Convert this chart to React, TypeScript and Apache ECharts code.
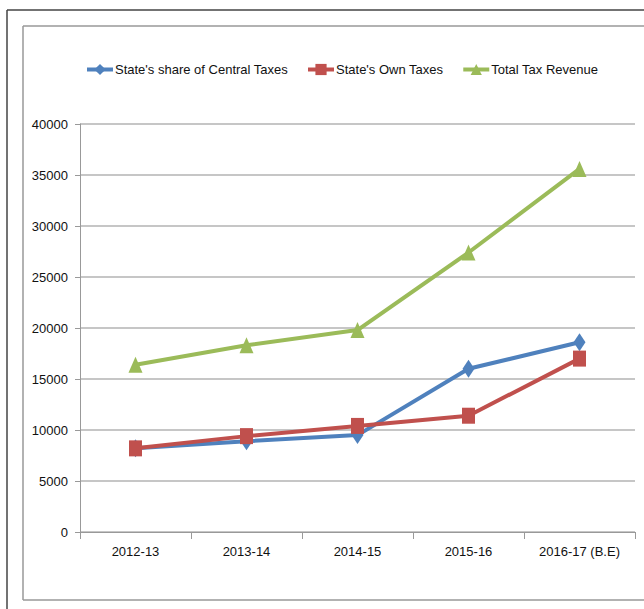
import React, { useEffect, useRef } from "react";
import * as echarts from "echarts";

const categories = ["2012-13", "2013-14", "2014-15", "2015-16", "2016-17 (B.E)"];
const centralShare = [8200, 8900, 9500, 16000, 18600];
const ownTaxes = [8200, 9400, 10400, 11400, 17000];
const totalRevenue = [16400, 18300, 19800, 27400, 35600];
const yTicks = [0, 5000, 10000, 15000, 20000, 25000, 30000, 35000, 40000];

const FONT = "'Liberation Sans', Arial, sans-serif";

export default function App() {
  const ref = useRef<HTMLDivElement>(null);
  useEffect(() => {
    if (!ref.current) return;
    const chart = echarts.init(ref.current, undefined, { renderer: "svg" });
    const mk = (name: string, data: number[], color: string, symbol: string, size: number | number[]) => ({
      name,
      type: "line",
      data,
      symbol,
      symbolSize: size,
      showSymbol: true,
      lineStyle: { color, width: 4 },
      itemStyle: { color },
      emphasis: { disabled: true },
    });
    chart.setOption({
      animation: false,
      backgroundColor: "#ffffff",
      textStyle: { fontFamily: FONT },
      graphic: [
        { type: "line", shape: { x1: 7, y1: 10, x2: 644, y2: 10 }, style: { stroke: "#444", lineWidth: 1.5 } },
        { type: "line", shape: { x1: 7, y1: 10, x2: 7, y2: 609 }, style: { stroke: "#444", lineWidth: 1.5 } },
        { type: "line", shape: { x1: 23, y1: 26, x2: 644, y2: 26 }, style: { stroke: "#999", lineWidth: 1.5 } },
        { type: "line", shape: { x1: 23, y1: 26, x2: 23, y2: 600 }, style: { stroke: "#999", lineWidth: 1.5 } },
        { type: "line", shape: { x1: 23, y1: 600, x2: 644, y2: 600 }, style: { stroke: "#999", lineWidth: 1.5 } },
      ],
      legend: {
        top: 58,
        left: 80,
        width: 560,
        itemWidth: 26,
        itemHeight: 14,
        itemGap: 18,
        lineStyle: { width: 4 },
        textStyle: { fontFamily: FONT, fontSize: 13, color: "#111", padding: [0, 0, 0, -3] },
        data: ["State's share of Central Taxes", "State's Own Taxes", "Total Tax Revenue"],
      },
      grid: { left: 80, right: 9, top: 124, bottom: 77 },
      xAxis: {
        type: "category",
        data: categories,
        boundaryGap: true,
        axisLine: { lineStyle: { color: "#999", width: 1 } },
        axisTick: { show: true, length: 7, lineStyle: { color: "#999" } },
        axisLabel: { color: "#111", fontSize: 13, fontFamily: FONT, margin: 13, interval: 0 },
      },
      yAxis: {
        type: "value",
        min: yTicks[0],
        max: yTicks[yTicks.length - 1],
        interval: 5000,
        axisLine: { show: true, lineStyle: { color: "#999", width: 1 } },
        axisTick: { show: true, length: 5, lineStyle: { color: "#999" } },
        axisLabel: { color: "#111", fontSize: 13, fontFamily: FONT, margin: 12, formatter: (v: number) => String(v) },
        splitLine: { lineStyle: { color: "#b3b3b3", width: 1.5 } },
      },
      series: [
        mk("State's share of Central Taxes", centralShare, "#4f81bd", "diamond", [12, 18]),
        mk("State's Own Taxes", ownTaxes, "#c0504d", "rect", [13, 16]),
        mk("Total Tax Revenue", totalRevenue, "#9bbb59", "triangle", [14, 16]),
      ],
    });
    return () => chart.dispose();
  }, []);
  return (
    <div
      ref={ref}
      style={{ position: "fixed", left: 0, top: 0, width: 644, height: 609, background: "#fff" }}
    />
  );
}
